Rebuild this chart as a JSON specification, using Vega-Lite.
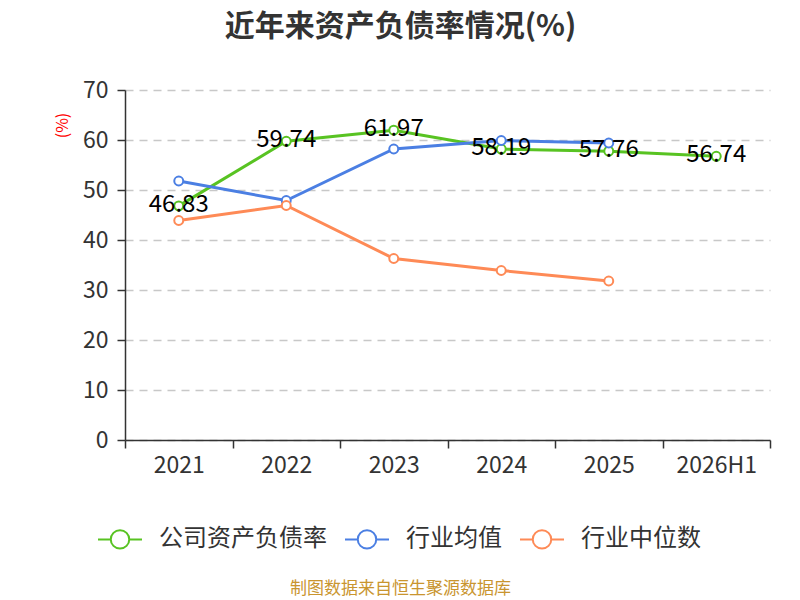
{
  "$schema": "https://vega.github.io/schema/vega-lite/v6.json",
  "autosize": {"type": "none"},
  "width": 645,
  "height": 350,
  "padding": {"left": 125, "top": 90, "right": 30, "bottom": 160},
  "background": "white",
  "title": {
    "text": "近年来资产负债率情况(%)",
    "anchor": "middle",
    "dx": -47,
    "offset": 37,
    "fontSize": 30,
    "fontWeight": "bold",
    "color": "#333333",
    "font": "Noto Sans CJK SC"
  },
  "data": {
    "values": [
      {"year": "2021", "series": "公司资产负债率", "value": 46.83},
      {"year": "2022", "series": "公司资产负债率", "value": 59.74},
      {"year": "2023", "series": "公司资产负债率", "value": 61.97},
      {"year": "2024", "series": "公司资产负债率", "value": 58.19},
      {"year": "2025", "series": "公司资产负债率", "value": 57.76},
      {"year": "2026H1", "series": "公司资产负债率", "value": 56.74},
      {"year": "2021", "series": "行业均值", "value": 51.8},
      {"year": "2022", "series": "行业均值", "value": 47.9},
      {"year": "2023", "series": "行业均值", "value": 58.2},
      {"year": "2024", "series": "行业均值", "value": 59.9},
      {"year": "2025", "series": "行业均值", "value": 59.4},
      {"year": "2021", "series": "行业中位数", "value": 43.9},
      {"year": "2022", "series": "行业中位数", "value": 46.9},
      {"year": "2023", "series": "行业中位数", "value": 36.3},
      {"year": "2024", "series": "行业中位数", "value": 33.9},
      {"year": "2025", "series": "行业中位数", "value": 31.8}
    ]
  },
  "encoding": {
    "x": {
      "field": "year",
      "type": "ordinal",
      "sort": null,
      "scale": {"type": "band", "paddingInner": 0, "paddingOuter": 0},
      "axis": {
        "title": "制图数据来自恒生聚源数据库",
        "titleFont": "Noto Sans CJK SC",
        "titleFontSize": 17,
        "titleFontWeight": "normal",
        "titleColor": "#c9952f",
        "titleX": 275,
        "titlePadding": 103,
        "labelAngle": 0,
        "labelFont": "Noto Sans CJK SC",
        "labelFontSize": 23,
        "labelColor": "#333333",
        "labelPadding": 6,
        "tickBand": "extent",
        "tickSize": 8,
        "tickColor": "#333333",
        "tickWidth": 1.5,
        "domainColor": "#333333",
        "domainWidth": 1.5,
        "grid": false
      }
    },
    "y": {
      "field": "value",
      "type": "quantitative",
      "scale": {"domain": [0, 70], "nice": false},
      "axis": {
        "values": [0, 10, 20, 30, 40, 50, 60, 70],
        "title": "(%)",
        "titleColor": "red",
        "titleFont": "Noto Sans CJK SC",
        "titleFontSize": 16,
        "titleFontWeight": "normal",
        "titleAngle": -90,
        "titleX": -63,
        "titleY": 35,
        "titleAlign": "center",
        "titleBaseline": "middle",
        "labelFont": "Noto Sans CJK SC",
        "labelFontSize": 23,
        "labelColor": "#333333",
        "labelPadding": 9,
        "tickSize": 8,
        "tickColor": "#333333",
        "tickWidth": 1.5,
        "domainColor": "#333333",
        "domainWidth": 1.5,
        "gridColor": "#c8c8c8",
        "gridDash": [8, 6],
        "gridWidth": 1.5
      }
    },
    "color": {
      "field": "series",
      "type": "nominal",
      "scale": {
        "domain": ["公司资产负债率", "行业均值", "行业中位数"],
        "range": ["#58c322", "#4b7fe3", "#fe8a56"]
      },
      "legend": {
        "title": null,
        "orient": "none",
        "legendX": -28,
        "legendY": 426,
        "direction": "horizontal",
        "columns": 3,
        "columnPadding": 14,
        "labelFont": "Noto Sans CJK SC",
        "labelFontSize": 24,
        "labelLimit": 400,
        "labelColor": "#333333",
        "labelOffset": 16,
        "symbolType": "M-1,0L-0.42,0M0.42,0L1,0M-0.42,0A0.42,0.42,0,1,1,0.42,0A0.42,0.42,0,1,1,-0.42,0Z",
        "symbolSize": 1936,
        "symbolStrokeWidth": 2,
        "symbolFillColor": "white"
      }
    }
  },
  "layer": [
    {
      "mark": {"type": "line", "strokeWidth": 3}
    },
    {
      "mark": {"type": "point", "filled": false, "fill": "white", "size": 80, "strokeWidth": 2, "opacity": 1}
    },
    {
      "transform": [{"filter": "datum.series === '公司资产负债率'"}],
      "mark": {
        "type": "text",
        "font": "Noto Sans CJK SC",
        "fontSize": 24,
        "color": "black",
        "baseline": "middle",
        "dy": -1
      },
      "encoding": {
        "text": {"field": "value", "type": "quantitative", "format": ".2f"},
        "color": {"value": "black"}
      }
    }
  ],
  "config": {
    "view": {"stroke": null}
  }
}
